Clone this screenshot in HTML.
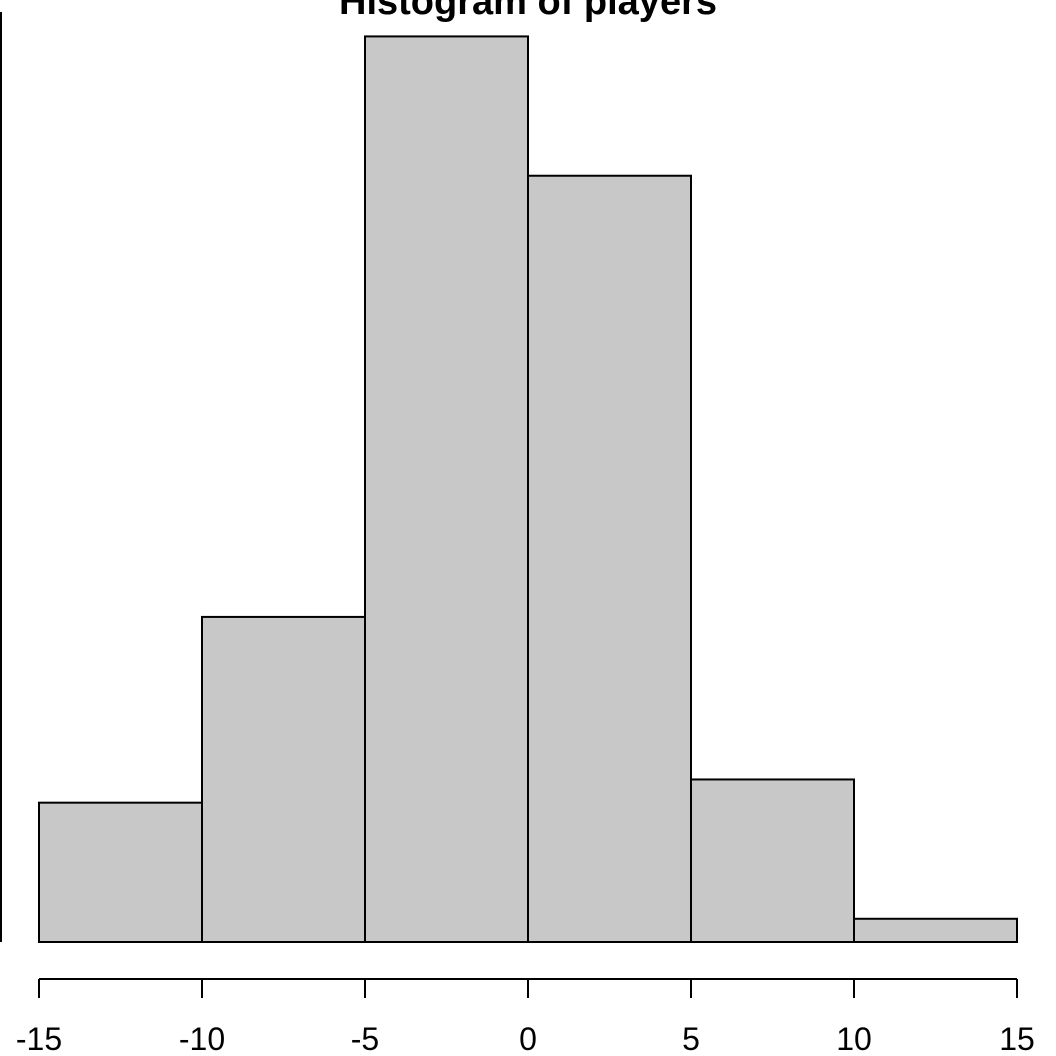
<!DOCTYPE html>
<html><head><meta charset="utf-8"><style>
html,body{margin:0;padding:0;background:#fff;}
svg{display:block;font-family:"Liberation Sans",Arial,sans-serif;}
</style></head><body>
<svg id="c" width="1056" height="1056" viewBox="0 0 1056 1056">
<text x="528" y="14" text-anchor="middle" font-weight="bold" font-size="38">Histogram of players</text>
<line x1="1" y1="12" x2="1" y2="942" stroke="#000" stroke-width="2"/>
<g id="bars"></g>
<g id="xaxis"></g>
</svg>
<script>
const breaks = [-15, -10, -5, 0, 5, 10, 15];
const counts = [6, 14, 39, 33, 7, 1];
const xTicks = [-15, -10, -5, 0, 5, 10, 15];
const xTickLabels = ["-15", "-10", "-5", "0", "5", "10", "15"];
const NS = "http://www.w3.org/2000/svg";
const xs = v => 39 + (v + 15) * (1017 - 39) / 30;
const ys = v => 942 - v * 23.22;
const bars = document.getElementById('bars');
counts.forEach((c, i) => {
  const r = document.createElementNS(NS, 'rect');
  r.setAttribute('x', xs(breaks[i]));
  r.setAttribute('y', ys(c));
  r.setAttribute('width', xs(breaks[i + 1]) - xs(breaks[i]));
  r.setAttribute('height', ys(0) - ys(c));
  r.setAttribute('fill', '#c8c8c8');
  r.setAttribute('stroke', '#000');
  r.setAttribute('stroke-width', '2');
  
  
  bars.appendChild(r);
});
const ax = document.getElementById('xaxis');
const l = document.createElementNS(NS, 'line');
l.setAttribute('x1', xs(xTicks[0])); l.setAttribute('x2', xs(xTicks[xTicks.length - 1]));
l.setAttribute('y1', 979); l.setAttribute('y2', 979);
l.setAttribute('stroke', '#000'); l.setAttribute('stroke-width', '2');


ax.appendChild(l);
xTicks.forEach((t, i) => {
  const tk = document.createElementNS(NS, 'line');
  tk.setAttribute('x1', xs(t)); tk.setAttribute('x2', xs(t));
  tk.setAttribute('y1', 979); tk.setAttribute('y2', 998);
  tk.setAttribute('stroke', '#000'); tk.setAttribute('stroke-width', '2');
  
  
  ax.appendChild(tk);
  const tx = document.createElementNS(NS, 'text');
  tx.setAttribute('x', xs(t)); tx.setAttribute('y', 1050);
  tx.setAttribute('text-anchor', 'middle'); tx.setAttribute('font-size', '32');
  tx.textContent = xTickLabels[i];
  
  
  ax.appendChild(tx);
});
</script>
</body></html>
